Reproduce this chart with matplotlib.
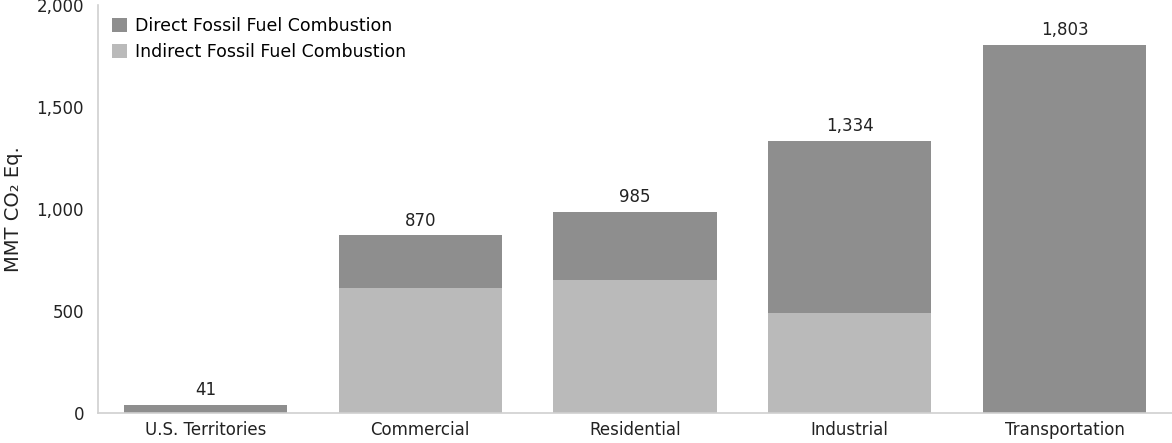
import matplotlib.pyplot as plt
import numpy as np

sectors = ['U.S. Territories', 'Commercial', 'Residential', 'Industrial', 'Transportation']
indirect = [0, 612, 650, 488, 0]
direct = [41, 258, 335, 846, 1803]

DIRECT_COLOR = '#8e8e8e'
INDIRECT_COLOR = '#bababa'

plt.rcParams['font.family'] = ['DejaVu Sans']

fig = plt.figure(figsize=(11.72, 4.43), dpi=100)
ax = fig.add_axes([0.0836, 0.068, 0.9164, 0.921])

x = np.arange(len(sectors))
totals = np.array(direct) + np.array(indirect)

ax.bar(x, indirect, width=0.76, color=INDIRECT_COLOR, label='Indirect Fossil Fuel Combustion')
ax.bar(x, direct, width=0.76, bottom=indirect, color=DIRECT_COLOR, label='Direct Fossil Fuel Combustion')

for xi, t in zip(x, totals):
    ax.text(xi, t + 28, f'{t:,}', ha='center', va='bottom', fontsize=12, color='#222222')

ax.set_xlim(-0.5, len(sectors) - 0.5)
ax.set_ylim(0, 2000)
ax.set_xticks(x)
ax.set_xticklabels(sectors, fontsize=12, color='#222222')
ax.set_yticks([0, 500, 1000, 1500, 2000])
ax.set_yticklabels(['0', '500', '1,000', '1,500', '2,000'], fontsize=12, color='#222222')
ax.tick_params(axis='y', length=0, pad=10)
ax.tick_params(axis='x', length=0, pad=6)
ax.set_ylabel('MMT CO₂ Eq.', fontsize=14, labelpad=10, color='#222222')

for s in ['top', 'right']:
    ax.spines[s].set_visible(False)
for s in ['left', 'bottom']:
    ax.spines[s].set_color('#d0d0d0')
    ax.spines[s].set_linewidth(1.2)

handles, labels = ax.get_legend_handles_labels()
ax.legend(handles[::-1], labels[::-1], loc='upper left', bbox_to_anchor=(0.002, 1.0),
          frameon=False, fontsize=12.5, handlelength=0.85, handleheight=0.85,
          handletextpad=0.45, labelspacing=0.45, borderaxespad=0.3)

fig.savefig('out.png', dpi=100)
